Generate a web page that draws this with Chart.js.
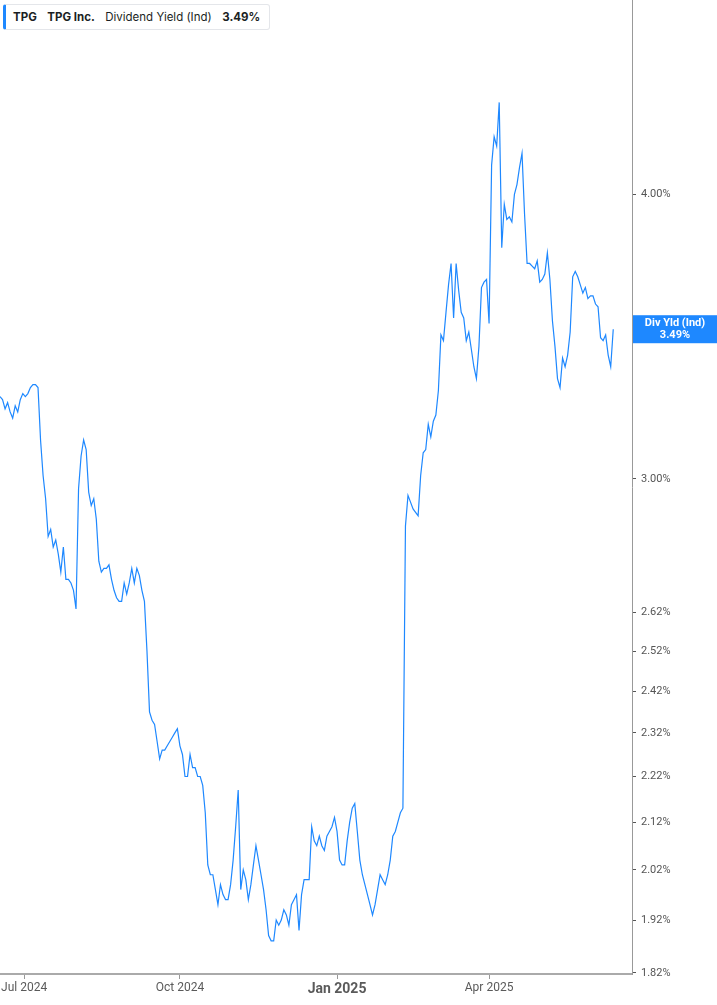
<!DOCTYPE html>
<html>
<head>
<meta charset="utf-8">
<title>TPG Dividend Yield</title>
<script src="https://cdn.jsdelivr.net/npm/chart.js@4.4.1/dist/chart.umd.min.js"></script>
<style>
  html, body { margin: 0; padding: 0; background: #fff; }
  #wrap { position: relative; width: 717px; height: 1005px; }
  #legend {
    position: absolute; left: 3px; top: 4px; height: 26px;
    box-sizing: border-box; padding: 0 9px 0 7px;
    background: #fff; border: 1px solid #e4e6ea; border-left: 3px solid #1e88ff;
    border-radius: 3px; font: 11.5px Inter, "Noto Sans", sans-serif; color: #1b1f24;
    display: flex; align-items: center; gap: 10.5px; white-space: nowrap;
  }
  #legend b { font-weight: 700; }
</style>
</head>
<body>
<div id="wrap">
  <canvas id="yieldChart"></canvas>
  <div id="legend"><b>TPG</b><b>TPG Inc.</b><span>Dividend Yield (Ind)</span><b>3.49%</b></div>
</div>
<script>
// daily dividend yield (%), Jun 2024 -> Jun 2025
const yieldValues = [
  3.26, 3.25, 3.22, 3.24, 3.21, 3.19, 3.23, 3.21, 3.25, 3.27,
  3.26, 3.27, 3.29, 3.30, 3.30, 3.29, 3.12, 3.01, 2.94, 2.83,
  2.85, 2.80, 2.82, 2.78, 2.73, 2.80, 2.71, 2.71, 2.70, 2.68,
  2.63, 2.97, 3.07, 3.12, 3.09, 2.96, 2.92, 2.94, 2.88, 2.76,
  2.73, 2.74, 2.74, 2.75, 2.71, 2.68, 2.66, 2.65, 2.65, 2.70,
  2.67, 2.70, 2.74, 2.70, 2.74, 2.72, 2.68, 2.65, 2.52, 2.37,
  2.35, 2.34, 2.30, 2.26, 2.28, 2.28, 2.29, 2.30, 2.31, 2.32,
  2.33, 2.29, 2.27, 2.22, 2.22, 2.27, 2.24, 2.24, 2.22, 2.22,
  2.20, 2.14, 2.03, 2.01, 2.01, 1.98, 1.95, 1.99, 1.97, 1.96,
  1.96, 1.99, 2.04, 2.11, 2.19, 1.98, 2.02, 2.00, 1.96, 1.99,
  2.03, 2.07, 2.04, 2.01, 1.98, 1.94, 1.89, 1.88, 1.88, 1.92,
  1.91, 1.92, 1.94, 1.93, 1.91, 1.95, 1.96, 1.97, 1.90, 1.97,
  2.00, 2.00, 2.00, 2.11, 2.08, 2.07, 2.09, 2.07, 2.06, 2.09,
  2.10, 2.11, 2.13, 2.10, 2.04, 2.03, 2.03, 2.08, 2.12, 2.15,
  2.16, 2.10, 2.04, 2.01, 1.99, 1.97, 1.95, 1.93, 1.95, 1.98,
  2.01, 2.00, 1.99, 2.01, 2.04, 2.09, 2.10, 2.12, 2.14, 2.15,
  2.86, 2.95, 2.93, 2.91, 2.90, 2.89, 3.01, 3.08, 3.09, 3.17,
  3.13, 3.18, 3.20, 3.28, 3.47, 3.45, 3.55, 3.65, 3.73, 3.53,
  3.73, 3.63, 3.55, 3.53, 3.45, 3.48, 3.42, 3.36, 3.32, 3.43,
  3.64, 3.66, 3.67, 3.51, 4.12, 4.24, 4.20, 4.39, 3.79, 3.96,
  3.90, 3.91, 3.89, 4.00, 4.04, 4.11, 4.17, 3.92, 3.73, 3.73,
  3.72, 3.71, 3.74, 3.66, 3.67, 3.69, 3.77, 3.67, 3.52, 3.43,
  3.32, 3.29, 3.39, 3.36, 3.40, 3.48, 3.68, 3.70, 3.68, 3.65,
  3.62, 3.64, 3.60, 3.61, 3.61, 3.58, 3.57, 3.46, 3.45, 3.47,
  3.40, 3.36, 3.49
];

// x axis: positions in trading days from the first point
const tickIndex = [9.5, 71, 133, 193];
const tickLabels = ['Jul 2024', 'Oct 2024', 'Jan 2025', 'Apr 2025'];
const boldTick = 'Jan 2025';

// y axis (log)
const yTicks = [1.82, 1.92, 2.02, 2.12, 2.22, 2.32, 2.42, 2.52, 2.62, 3.00, 4.00];

const lineBlue = '#1e88ff';
const axisFont = '"Liberation Sans Narrow", Roboto, sans-serif';

const lastBadge = {
    id: 'lastBadge',
    afterDraw(chart) {
        const ys = chart.scales.y;
        const last = yieldValues[yieldValues.length - 1];
        const py = ys.getPixelForValue(last);
        const ctx = chart.ctx;
        const left = ys.left + 1;
        const w = chart.width - left;
        ctx.save();
        ctx.fillStyle = lineBlue;
        ctx.fillRect(left, py - 14, w, 28);
        ctx.fillStyle = '#fff';
        ctx.font = 'bold 11px Roboto, sans-serif';
        ctx.textAlign = 'center';
        ctx.textBaseline = 'middle';
        ctx.fillText('Div Yld (Ind)', left + w / 2, py - 6);
        ctx.fillText(last.toFixed(2) + '%', left + w / 2, py + 6);
        ctx.restore();
    }
};

const canvas = document.getElementById('yieldChart');
canvas.style.width = '717px';
canvas.style.height = '1005px';

new Chart(canvas, {
    type: 'line',
    data: {
        datasets: [{
            data: yieldValues.map((v, i) => ({ x: i, y: v })),
            borderColor: lineBlue,
            borderWidth: 1.2,
            pointRadius: 0,
            tension: 0,
            fill: false
        }]
    },
    options: {
        responsive: true,
        maintainAspectRatio: false,
        animation: false,
        layout: { padding: 0 },
        plugins: {
            legend: { display: false },
            tooltip: { enabled: false }
        },
        scales: {
            x: {
                type: 'linear',
                min: 0,
                max: 249.4,
                afterBuildTicks(scale) {
                    scale.ticks = tickIndex.map(v => ({ value: v }));
                },
                afterFit(scale) {
                    scale.height = 31;
                    scale.paddingLeft = 0;
                    scale.paddingRight = 0;
                },
                ticks: {
                    autoSkip: false,
                    maxRotation: 0,
                    padding: 2,
                    color: '#5a5a5a',
                    callback: v => tickLabels[tickIndex.indexOf(v)],
                    font: ctx => {
                        const lbl = ctx.tick ? tickLabels[tickIndex.indexOf(ctx.tick.value)] : '';
                        return lbl === boldTick
                            ? { family: axisFont, size: 14, weight: 'bold' }
                            : { family: axisFont, size: 12 };
                    }
                },
                grid: { drawOnChartArea: false, tickLength: 5, tickColor: '#999' },
                border: { color: '#aaa', width: 2 }
            },
            y: {
                type: 'logarithmic',
                position: 'right',
                min: 1.818,
                max: 4.869,
                afterBuildTicks(scale) {
                    scale.ticks = yTicks.map(v => ({ value: v }));
                },
                afterFit(scale) {
                    scale.width = 85;
                    scale.paddingTop = 0;
                    scale.paddingBottom = 0;
                },
                ticks: {
                    color: '#555',
                    padding: 5,
                    font: { family: 'Roboto, sans-serif', size: 11 },
                    callback: v => Number(v).toFixed(2) + '%'
                },
                grid: { drawOnChartArea: false, tickLength: 4, tickColor: '#555' },
                border: { color: '#999', width: 1 }
            }
        }
    },
    plugins: [lastBadge]
});
</script>
</body>
</html>
